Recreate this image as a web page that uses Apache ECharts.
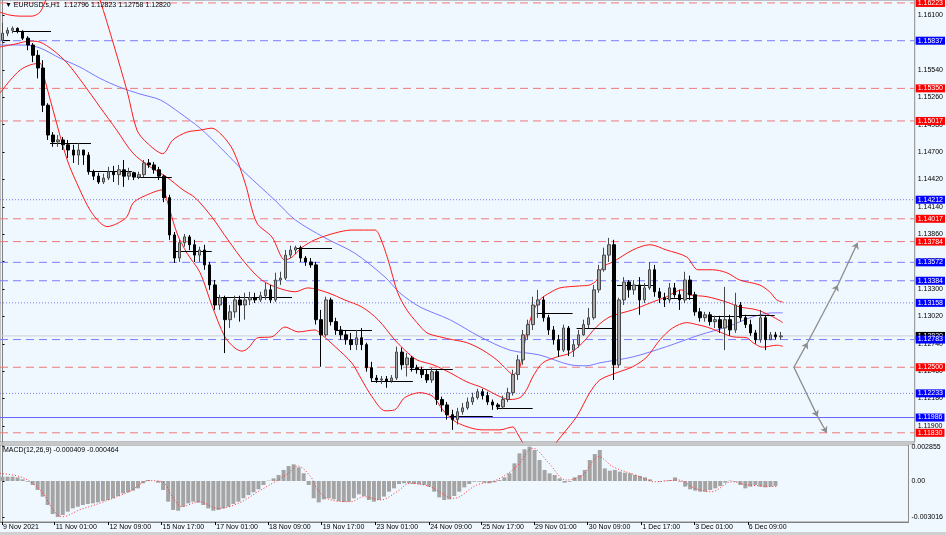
<!DOCTYPE html>
<html><head><meta charset="utf-8">
<script src="https://cdn.jsdelivr.net/npm/echarts@6/dist/echarts.min.js"></script>
<style>html,body{margin:0;padding:0;background:#f0f8ff}#c{width:946px;height:535px}</style>
</head><body><div id="c"></div><script>
// ---- DATA (3-hour candles) ----
const firstOpen = 1.15843;
const closes = [1.15913,1.15943,1.15963,1.15933,1.15863,1.15793,1.15688,1.15558,1.15178,1.14873,
1.14803,1.14823,1.14773,1.14720,1.14668,1.14720,1.14668,1.14498,1.14453,1.14393,
1.14433,1.14498,1.14468,1.14518,1.14453,1.14488,1.14443,1.14468,1.14588,1.14568,
1.14518,1.14453,1.14233,1.13852,1.13616,1.13772,1.13832,1.13752,1.13646,1.13698,
1.13546,1.13341,1.13136,1.13211,1.12986,1.13066,1.13188,1.13136,1.13188,1.13211,
1.13188,1.13231,1.13291,1.13188,1.13391,1.13411,1.13646,1.13698,1.13722,1.13616,
1.13576,1.13546,1.12986,1.12831,1.13188,1.12966,1.12881,1.12831,1.12781,1.12731,
1.12801,1.12731,1.12495,1.12390,1.12370,1.12380,1.12360,1.12390,1.12655,1.12525,
1.12595,1.12495,1.12475,1.12425,1.12370,1.12455,1.12170,1.12115,1.12015,1.11965,
1.12045,1.12085,1.12145,1.12190,1.12250,1.12210,1.12145,1.12115,1.12095,1.12170,
1.12240,1.12425,1.12575,1.12831,1.12936,1.13136,1.13188,1.13006,1.12881,1.12781,
1.12675,1.12901,1.12675,1.12731,1.12831,1.12936,1.13006,1.13291,1.13496,1.13646,
1.13752,1.12525,1.13188,1.13371,1.13291,1.13341,1.13188,1.13311,1.13496,1.13271,
1.13211,1.13188,1.13311,1.13241,1.13188,1.13391,1.13241,1.13066,1.13006,1.13036,
1.12966,1.12986,1.12901,1.12986,1.12881,1.13136,1.13006,1.12936,1.12851,1.12781,
1.13006,1.12781,1.12831,1.12811,1.12820];
const highs = [1.16018,1.15973,1.15983,1.15973,1.15943,1.15883,1.15813,1.15740,1.15638,1.15198,
1.14903,1.14873,1.14853,1.14823,1.14773,1.14793,1.14720,1.14698,1.14518,1.14488,
1.14478,1.14548,1.14558,1.14568,1.14618,1.14538,1.14498,1.14498,1.14618,1.14628,
1.14598,1.14548,1.14468,1.14263,1.13882,1.13802,1.13862,1.13852,1.13802,1.13732,
1.13752,1.13576,1.13391,1.13241,1.13231,1.13136,1.13231,1.13231,1.13261,1.13271,
1.13261,1.13271,1.13361,1.13341,1.13466,1.13476,1.13698,1.13742,1.13742,1.13742,
1.13636,1.13616,1.13576,1.13086,1.13221,1.13211,1.13006,1.12921,1.12881,1.12851,
1.12881,1.12901,1.12751,1.12555,1.12420,1.12410,1.12410,1.12420,1.12711,1.12701,
1.12645,1.12615,1.12525,1.12505,1.12475,1.12495,1.12475,1.12200,1.12145,1.12065,
1.12085,1.12135,1.12190,1.12240,1.12280,1.12280,1.12250,1.12170,1.12135,1.12210,
1.12290,1.12475,1.12625,1.12881,1.12986,1.13221,1.13291,1.13221,1.13036,1.12921,
1.12831,1.12936,1.12921,1.12781,1.12881,1.12986,1.13106,1.13341,1.13546,1.13722,
1.13822,1.13802,1.13211,1.13421,1.13391,1.13391,1.13421,1.13361,1.13576,1.13546,
1.13311,1.13261,1.13361,1.13361,1.13291,1.13476,1.13436,1.13271,1.13106,1.13066,
1.13066,1.13026,1.13026,1.13321,1.13036,1.13261,1.13166,1.13036,1.12986,1.12881,
1.13086,1.13036,1.12861,1.12861,1.12861];
const lows = [1.15823,1.15883,1.15913,1.15913,1.15843,1.15740,1.15618,1.15452,1.15108,1.14823,
1.14753,1.14753,1.14720,1.14638,1.14588,1.14568,1.14568,1.14468,1.14413,1.14373,
1.14373,1.14413,1.14393,1.14363,1.14343,1.14413,1.14413,1.14423,1.14443,1.14538,
1.14478,1.14413,1.14187,1.13802,1.13566,1.13576,1.13732,1.13696,1.13576,1.13576,
1.13496,1.13291,1.13086,1.13086,1.12645,1.12901,1.13006,1.12966,1.12986,1.13136,
1.13156,1.13166,1.13188,1.13156,1.13166,1.13341,1.13391,1.13616,1.13656,1.13576,
1.13536,1.13516,1.12936,1.12505,1.12811,1.12926,1.12831,1.12781,1.12731,1.12675,
1.12675,1.12675,1.12455,1.12350,1.12340,1.12330,1.12290,1.12340,1.12370,1.12475,
1.12405,1.12455,1.12435,1.12390,1.12340,1.12340,1.12115,1.12045,1.11965,1.11860,
1.11915,1.12015,1.12065,1.12115,1.12170,1.12170,1.12115,1.12065,1.12065,1.12075,
1.12145,1.12210,1.12370,1.12525,1.12781,1.12881,1.13006,1.12966,1.12831,1.12731,
1.12605,1.12655,1.12615,1.12605,1.12701,1.12821,1.12901,1.12986,1.13261,1.13476,
1.13576,1.12370,1.12495,1.13136,1.13211,1.13241,1.13036,1.13156,1.13291,1.13221,
1.13156,1.13116,1.13156,1.13211,1.13086,1.13156,1.13188,1.13026,1.12966,1.12966,
1.12926,1.12901,1.12851,1.12675,1.12821,1.12851,1.12966,1.12901,1.12821,1.12741,
1.12751,1.12675,1.12781,1.12781,1.12781];
const totalSlots = 181; // candle slots incl. empty right margin

// Bollinger bands and moving average: [candle index, price]
const bbUpper = [[-0.5,1.16128],[1.5,1.16098],[3.5,1.16088],[5.8,1.16088],[7.4,1.16128],[8.4,1.16233],[9.4,1.16355],[13.7,1.16662],[18.3,1.16355],[19.3,1.16253],[24.6,1.15332],[26.6,1.14923],[28.6,1.14793],[31.7,1.14683],[33.7,1.14823],[36.5,1.14903],[39.1,1.14923],[41.4,1.14943],[43.4,1.14873],[45.6,1.14720],[48.0,1.14383],[50.3,1.13977],[53.3,1.13832],[55.9,1.13596],[57.3,1.13626],[59.2,1.13722],[61.8,1.13802],[65.8,1.13872],[69.1,1.13902],[73.7,1.13902],[74.7,1.13832],[76.3,1.13596],[78.2,1.13261],[80.0,1.13086],[82.0,1.12956],[84.0,1.12851],[86.5,1.12811],[89.1,1.12781],[91.9,1.12751],[95.0,1.12675],[97.8,1.12575],[99.8,1.12475],[101.0,1.12425],[102.4,1.12505],[103.7,1.12851],[104.9,1.13056],[106.3,1.13188],[108.3,1.13261],[110.3,1.13311],[114.2,1.13331],[116.2,1.13341],[117.6,1.13391],[118.8,1.13526],[120.8,1.13576],[124.7,1.13698],[128.1,1.13752],[131.4,1.13698],[135.4,1.13626],[137.6,1.13496],[140.5,1.13496],[143.3,1.13466],[145.9,1.13391],[149.8,1.13341],[151.8,1.13271],[153.2,1.13188],[154.4,1.13166]];
const bbMiddle = [[-0.5,1.15773],[2.5,1.15803],[5.4,1.15833],[7.4,1.15823],[10.0,1.15740],[12.8,1.15608],[15.9,1.15402],[19.3,1.15158],[22.6,1.14923],[25.8,1.14688],[29.2,1.14548],[32.5,1.14443],[35.7,1.14313],[38.1,1.14233],[41.4,1.14037],[44.6,1.13802],[48.0,1.13566],[51.3,1.13391],[54.5,1.13311],[57.9,1.13271],[60.4,1.13311],[64.4,1.13261],[67.7,1.13188],[71.1,1.13116],[74.3,1.12986],[77.6,1.12781],[79.6,1.12675],[82.0,1.12575],[85.2,1.12525],[88.5,1.12445],[91.9,1.12350],[95.0,1.12290],[98.4,1.12200],[100.4,1.12170],[102.4,1.12190],[103.7,1.12270],[104.9,1.12400],[106.9,1.12545],[109.7,1.12605],[112.3,1.12645],[114.8,1.12751],[117.6,1.12916],[120.2,1.13016],[124.7,1.13086],[128.1,1.13156],[131.4,1.13221],[134.4,1.13291],[136.0,1.13241],[139.4,1.13221],[143.3,1.13166],[145.9,1.13116],[149.3,1.13086],[152.4,1.13016],[154.4,1.12956]];
const bbLower = [[-0.5,1.15302],[1.5,1.15432],[3.5,1.15538],[5.4,1.15588],[7.4,1.15608],[8.0,1.15508],[10.0,1.15128],[12.8,1.14618],[15.3,1.14313],[17.3,1.14107],[19.3,1.13977],[20.7,1.13937],[22.6,1.13967],[24.6,1.14037],[25.8,1.14177],[27.8,1.14243],[31.7,1.14313],[32.5,1.14213],[34.5,1.13872],[36.5,1.13666],[39.1,1.13466],[41.4,1.13136],[44.0,1.12811],[46.0,1.12695],[47.4,1.12665],[48.6,1.12695],[50.5,1.12801],[53.3,1.12811],[55.9,1.12911],[58.5,1.12861],[61.8,1.12881],[63.2,1.12831],[65.8,1.12711],[69.1,1.12545],[71.1,1.12370],[73.1,1.12200],[75.7,1.12055],[77.6,1.12065],[79.6,1.12190],[82.6,1.12240],[85.2,1.12200],[87.1,1.12065],[89.9,1.11935],[95.0,1.11860],[98.4,1.11860],[101.0,1.11890],[101.8,1.11830],[102.8,1.11740],[104.3,1.11605],[106.3,1.11535],[108.3,1.11635],[109.7,1.11740],[113.6,1.11995],[116.2,1.12240],[118.2,1.12370],[121.6,1.12445],[124.7,1.12505],[127.5,1.12605],[130.1,1.12781],[132.6,1.12901],[135.4,1.12956],[137.4,1.12936],[139.4,1.12911],[141.9,1.12861],[144.5,1.12811],[147.3,1.12801],[148.5,1.12751],[150.4,1.12705],[153.2,1.12725],[154.4,1.12715]];
const maLine = [[-0.5,1.15793],[4.4,1.15793],[7.4,1.15763],[11.4,1.15658],[15.3,1.15568],[19.3,1.15452],[23.2,1.15362],[27.2,1.15292],[31.2,1.15232],[35.1,1.15098],[39.1,1.14943],[43.6,1.14720],[48.0,1.14488],[53.9,1.14207],[57.9,1.14007],[63.8,1.13822],[69.7,1.13666],[75.7,1.13421],[78.6,1.13261],[82.6,1.13116],[88.5,1.12986],[94.5,1.12811],[100.4,1.12675],[106.3,1.12625],[112.3,1.12525],[115.6,1.12515],[118.2,1.12545],[124.7,1.12605],[131.4,1.12711],[138.0,1.12831],[143.3,1.12911],[148.5,1.13016],[152.4,1.13056],[154.4,1.13056]];

// Horizontal levels
const levelPrices = [1.16223,1.15837,1.15350,1.15017,1.14212,1.14017,1.13784,1.13572,1.13384,1.13158,1.12783,1.12500,1.12233,1.11986,1.11830];
const levelKinds  = ['red','blueDash','red','red','blueDot','red','red','blueDash','blueDash','blueDot','blueDash','red','blueDot','blueSolid','red'];
const currentPrice = 1.12820;

// Short black range segments: [start index, end index, price]
const segments = [[-0.1,1.5,1.15843],[2.1,9.6,1.15933],[9.4,17.5,1.14793],[17.3,25.6,1.14498],[26.6,33.5,1.14443],[34.1,41.4,1.13686],[42.0,57.3,1.13211],[57.9,65.2,1.13712],[65.8,73.1,1.12881],[73.1,81.2,1.12360],[80.6,89.1,1.12475],[88.5,97.0,1.11995],[97.8,104.9,1.12085],[105.7,112.8,1.13056],[113.6,121.2,1.12901],[121.6,128.7,1.13341],[131.4,137.0,1.13201],[140.0,145.9,1.13016],[145.9,152.8,1.13036]];

// Projection arrows: waypoints [index, price]
const arrowUp = [[156.6,1.12500],[159.3,1.12751],[165.3,1.13341],[169.2,1.13772]];
const arrowDown = [[156.6,1.12500],[161.3,1.11995],[163.1,1.11830]];

// MACD(12,26,9)
const macdHist = [0.00036,0.00036,0.00036,0.00030,0.00014,-0.00006,-0.00033,-0.00075,-0.00130,-0.00200,
-0.00275,-0.00300,-0.00283,-0.00255,-0.00228,-0.00214,-0.00200,-0.00191,-0.00186,-0.00178,
-0.00167,-0.00158,-0.00144,-0.00125,-0.00103,-0.00094,-0.00080,-0.00061,-0.00019,0.00008,
0.00000,-0.00014,-0.00075,-0.00172,-0.00241,-0.00247,-0.00214,-0.00186,-0.00172,-0.00180,
-0.00200,-0.00228,-0.00247,-0.00241,-0.00228,-0.00214,-0.00191,-0.00172,-0.00144,-0.00117,
-0.00094,-0.00069,-0.00033,0.00003,0.00022,0.00050,0.00092,0.00125,0.00139,0.00114,
0.00064,-0.00033,-0.00144,-0.00178,-0.00153,-0.00144,-0.00153,-0.00167,-0.00175,-0.00172,
-0.00144,-0.00111,-0.00125,-0.00158,-0.00172,-0.00158,-0.00130,-0.00089,-0.00061,-0.00025,
-0.00019,-0.00019,-0.00025,-0.00028,-0.00033,-0.00047,-0.00089,-0.00136,-0.00158,-0.00153,
-0.00125,-0.00089,-0.00053,-0.00025,-0.00006,-0.00006,-0.00014,-0.00019,-0.00011,0.00008,
0.00030,0.00064,0.00147,0.00230,0.00264,0.00286,0.00258,0.00175,0.00092,0.00064,
0.00050,0.00022,-0.00014,-0.00006,0.00030,0.00050,0.00092,0.00175,0.00225,0.00258,
0.00105,0.00086,0.00092,0.00078,0.00069,0.00064,0.00050,0.00042,0.00030,0.00014,
0.00000,-0.00006,0.00003,0.00008,0.00030,-0.00006,-0.00047,-0.00069,-0.00080,-0.00089,
-0.00089,-0.00075,-0.00061,-0.00042,-0.00014,0.00003,-0.00006,-0.00033,-0.00061,-0.00047,
-0.00033,-0.00047,-0.00053,-0.00047,-0.00041];
const macdSignal = [[-0.5,0.00064],[3.5,0.00036],[6.0,-0.00019],[8.1,-0.00103],[10.1,-0.00241],[12.0,-0.00297],[15.3,-0.00241],[19.3,-0.00186],[25.2,-0.00089],[29.2,0.00003],[31.8,-0.00006],[33.8,-0.00130],[35.8,-0.00214],[39.1,-0.00172],[43.0,-0.00228],[47.0,-0.00186],[50.9,-0.00089],[54.3,-0.00006],[56.9,0.00064],[58.8,0.00125],[61.4,0.00036],[62.8,-0.00075],[65.4,-0.00158],[69.4,-0.00172],[72.0,-0.00130],[75.3,-0.00158],[78.6,-0.00089],[81.2,-0.00019],[85.2,-0.00047],[89.9,-0.00144],[94.5,-0.00033],[98.4,0.00008],[102.4,0.00119],[105.7,0.00272],[108.9,0.00147],[112.3,0.00008],[115.6,0.00050],[118.8,0.00203],[121.6,0.00119],[126.1,0.00050],[130.1,-0.00006],[134.6,0.00008],[138.0,-0.00061],[141.3,-0.00089],[145.3,-0.00006],[148.5,-0.00033],[154.4,-0.00047]];

// Axis tick labels
const priceTicks = [1.11900,1.12180,1.12460,1.12740,1.13020,1.13300,1.13580,1.13860,1.14140,1.14420,1.14700,1.14980,1.15260,1.15540,1.15820,1.16100];
const macdTicks = [0.002855, 0, -0.003016];
const timeLabels = ['9 Nov 2021','11 Nov 01:00','12 Nov 09:00','15 Nov 17:00','17 Nov 01:00','18 Nov 09:00','19 Nov 17:00','23 Nov 01:00','24 Nov 09:00','25 Nov 17:00','29 Nov 01:00','30 Nov 09:00','1 Dec 17:00','3 Dec 01:00','6 Dec 09:00'];
const timeTickIdx = [-0.1,10.4,21.1,31.7,42.4,52.9,63.6,74.3,85.0,95.4,105.9,116.6,127.3,137.8,148.5];
const headerText = '\u25BC EURUSD.s,H1  1.12796 1.12823 1.12758 1.12820';
const macdText = 'MACD(12,26,9) -0.000409 -0.000464';

// ---- BUILD ----
const FONT = '"Liberation Sans","DejaVu Sans",sans-serif';
const X_MIN = -0.5, X_MAX = totalSlots - 0.5;
const slots = Array.from({length: totalSlots}, (_, i) => String(i));
const candles = closes.map((c, i) => [i === 0 ? firstOpen : closes[i - 1], c, lows[i], highs[i]]);

const styleFor = {
  red:       {line: {color: '#f07878', type: [8, 5], width: 1}, tag: '#ff0000'},
  blueDash:  {line: {color: '#7c7cff', type: [8, 5], width: 1}, tag: '#0000ff'},
  blueDot:   {line: {color: '#7c7cf0', type: [1, 2], width: 1}, tag: '#0000ff'},
  blueSolid: {line: {color: '#6464ff', type: 'solid', width: 1}, tag: '#0000ff'},
  current:   {line: {color: '#cfcfcf', type: 'solid', width: 1}, tag: '#000000'}
};
const levelSeries = (price, kind, z) => {
  const s = styleFor[kind];
  return {type: 'line', xAxisIndex: 1, yAxisIndex: 0, data: [[X_MIN, price], [X_MAX, price]],
    symbol: 'none', silent: true, z, lineStyle: Object.assign({}, s.line),
    endLabel: {show: true, formatter: price.toFixed(5), distance: 1, backgroundColor: s.tag, color: '#fff',
      fontSize: 7, fontFamily: FONT, padding: [1, 2, 0, 2], align: 'left'}};
};

const arrowLines = [];
[arrowUp, arrowDown].forEach(path => {
  for (let k = 0; k < path.length - 1; k++) arrowLines.push({coords: [path[k], path[k + 1]]});
});

const bandSeries = (data, color, z) => ({type: 'line', data, xAxisIndex: 1, yAxisIndex: 0, symbol: 'none',
  smooth: 0.3, lineStyle: {color, width: 1}, z, silent: true, clip: true});

const series = [];
series.push(levelSeries(currentPrice, 'current', 1));
levelPrices.forEach((p, k) => series.push(levelSeries(p, levelKinds[k], 2)));
series.push(
  {type: 'line', data: maLine, xAxisIndex: 1, yAxisIndex: 0, symbol: 'none', smooth: 0.3,
    lineStyle: {color: '#7878ff', width: 1}, z: 3, silent: true},
  bandSeries(bbUpper, '#ff1a1a', 4),
  bandSeries(bbMiddle, '#ff1a1a', 4),
  bandSeries(bbLower, '#ff1a1a', 4),
  {type: 'lines', coordinateSystem: 'cartesian2d', xAxisIndex: 1, yAxisIndex: 0, z: 5, silent: true,
    lineStyle: {color: '#000', width: 1, opacity: 1}, data: segments.map(s => ({coords: [[s[0], s[2]], [s[1], s[2]]]}))},
  {type: 'candlestick', xAxisIndex: 0, yAxisIndex: 0, data: candles, barWidth: 3, z: 6, silent: true,
    itemStyle: {color: '#a8a8a8', color0: '#000000', borderColor: '#484848', borderColor0: '#000000', borderWidth: 1}},
  {type: 'lines', coordinateSystem: 'cartesian2d', xAxisIndex: 1, yAxisIndex: 0, z: 7, silent: true,
    symbol: ['none', 'arrow'], symbolSize: 6,
    lineStyle: {color: '#8c8c8c', width: 1.3, opacity: 1}, data: arrowLines},
  {type: 'bar', xAxisIndex: 2, yAxisIndex: 1, data: macdHist, barWidth: 4, silent: true,
    itemStyle: {color: '#a4a4a4'}},
  {type: 'line', xAxisIndex: 3, yAxisIndex: 1, data: macdSignal, symbol: 'none', smooth: 0.35, silent: true,
    lineStyle: {color: '#ff3030', width: 1, type: [1, 2]}, z: 5}
);

const chart = echarts.init(document.getElementById('c'));
chart.setOption({
  animation: false,
  backgroundColor: '#f0f8ff',
  textStyle: {fontFamily: FONT},
  grid: [
    {left: 0, right: 31, top: 0, height: 442, show: true, borderColor: '#8a8a8a', borderWidth: 1, backgroundColor: '#f0f8ff'},
    {left: 0, right: 31, top: 445, height: 77, show: true, borderColor: '#8a8a8a', borderWidth: 1, backgroundColor: '#f0f8ff'}
  ],
  xAxis: [
    {gridIndex: 0, type: 'category', data: slots, show: false},
    {gridIndex: 0, type: 'value', min: X_MIN, max: X_MAX, show: false},
    {gridIndex: 1, type: 'category', data: slots, show: false},
    {gridIndex: 1, type: 'value', min: X_MIN, max: X_MAX, position: 'bottom',
      splitLine: {show: false}, axisLine: {show: true, lineStyle: {color: '#808080'}},
      axisTick: {show: true, customValues: timeTickIdx, length: 3, lineStyle: {color: '#000'}},
      axisLabel: {customValues: timeTickIdx, formatter: v => timeLabels[timeTickIdx.indexOf(v)] || '',
        align: 'left', padding: [0, 0, 0, 1], margin: 2, fontSize: 7, color: '#000', fontFamily: FONT}}
  ],
  yAxis: [
    {gridIndex: 0, type: 'value', position: 'right', min: 1.11736, max: 1.16253, splitLine: {show: false},
      axisLine: {show: true, lineStyle: {color: '#808080'}},
      axisTick: {show: true, customValues: priceTicks, length: 2, lineStyle: {color: '#000'}},
      axisLabel: {customValues: priceTicks, formatter: v => v.toFixed(5), fontSize: 7, margin: 3, color: '#000', fontFamily: FONT}},
    {gridIndex: 1, type: 'value', position: 'right', min: -0.003413, max: 0.002997, splitLine: {show: false},
      axisLine: {show: true, lineStyle: {color: '#808080'}},
      axisTick: {show: true, customValues: macdTicks, length: 2, lineStyle: {color: '#000'}},
      axisLabel: {customValues: macdTicks, formatter: v => (v === 0 ? '0.00' : v.toFixed(6)), fontSize: 7, margin: 3, color: '#000', fontFamily: FONT}}
  ],
  graphic: [
    {type: 'rect', left: 0, top: 442, shape: {width: 915, height: 3}, style: {fill: '#c8c8c8'}, silent: true},
    {type: 'rect', left: 0, top: 532, shape: {width: 946, height: 3}, style: {fill: '#d0d0d0'}, silent: true},
    {type: 'text', left: 5, top: 2, z: 100, style: {text: headerText, fill: '#000', fontSize: 7, fontFamily: FONT}, silent: true},
    {type: 'text', left: 3, top: 447, z: 100, style: {text: macdText, fill: '#000', fontSize: 7, fontFamily: FONT}, silent: true}
  ],
  series
});
</script></body></html>
